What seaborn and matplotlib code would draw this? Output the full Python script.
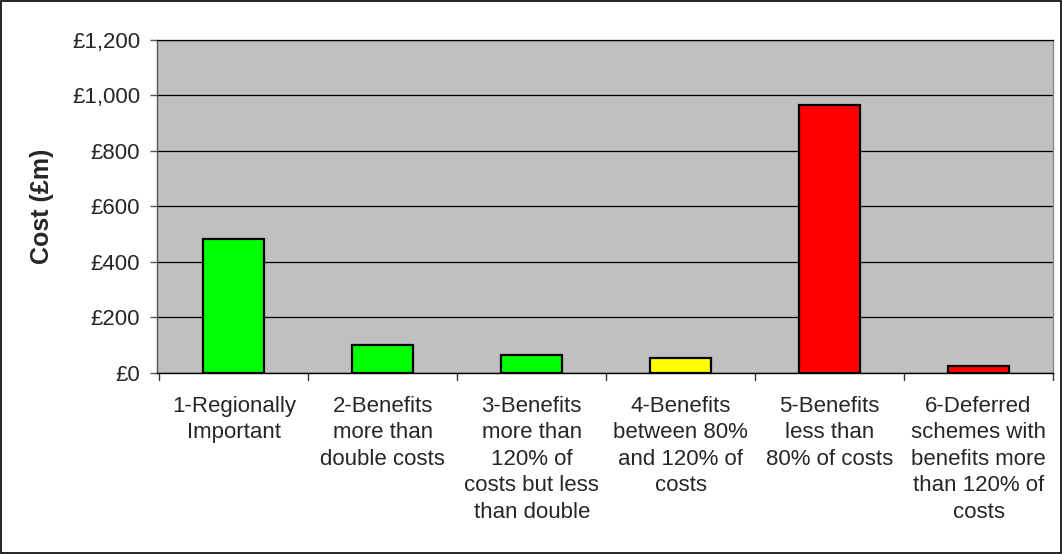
import matplotlib
matplotlib.use("Agg")
import matplotlib.pyplot as plt
from matplotlib.ticker import FuncFormatter, MultipleLocator
import seaborn as sns
import pandas as pd

categories = [
    "1-Regionally\nImportant",
    "2-Benefits\nmore than\ndouble costs",
    "3-Benefits\nmore than\n120% of\ncosts but less\nthan double",
    "4-Benefits\nbetween 80%\nand 120% of\ncosts",
    "5-Benefits\nless than\n80% of costs",
    "6-Deferred\nschemes with\nbenefits more\nthan 120% of\ncosts",
]
costs = [481, 99, 65, 53, 964, 23]
bar_colors = ["#00FF00", "#00FF00", "#00FF00", "#FFFF00", "#FF0000", "#FF0000"]

df = pd.DataFrame({"category": categories, "cost": costs})

sns.set_theme(style="white")
plt.rcParams["font.family"] = ["Liberation Sans", "DejaVu Sans"]

fig = plt.figure(figsize=(10.62, 5.54), dpi=100)
ax = fig.add_axes([0.1478, 0.3273, 0.8437, 0.6005])
ax.set_facecolor("#C0C0C0")

sns.barplot(
    data=df, x="category", y="cost", hue="category",
    palette=bar_colors, legend=False, width=0.41,
    edgecolor="black", linewidth=1.6, saturation=1, ax=ax,
)

ax.set_ylim(0, 1200)
ax.set_xlim(-0.517, len(categories) - 0.5)
ax.yaxis.set_major_locator(MultipleLocator(200))
ax.yaxis.set_major_formatter(FuncFormatter(lambda v, p: f"£{v:,.0f}"))
ax.grid(axis="y", color="black", linewidth=0.9)
ax.set_axisbelow(True)

# category labels, with separator ticks between categories
ax.set_xticks(range(len(categories)))
ax.set_xticklabels(categories, fontsize=16, linespacing=1.35, va="top")
ax.tick_params(axis="x", length=0, pad=16.5)
for b in range(len(categories) + 1):
    ax.plot([b - 0.5, b - 0.5], [0, -0.021], transform=ax.get_xaxis_transform(),
            color="#333333", linewidth=1, clip_on=False)

ax.tick_params(axis="y", labelsize=16, length=5, width=1, color="#555555",
               left=True, direction="out", pad=7)
ax.set_ylabel("Cost (£m)", fontsize=18, fontweight="bold", labelpad=13)
ax.set_xlabel("")

ax.spines["left"].set_color("#555555")
ax.spines["left"].set_linewidth(1)
ax.spines["bottom"].set_color("black")
ax.spines["bottom"].set_linewidth(1)
ax.spines["right"].set_color("#8a8a8a")
ax.spines["right"].set_linewidth(1)
ax.spines["top"].set_color("black")
ax.spines["top"].set_linewidth(0.9)

fig.patches.append(plt.Rectangle((0.001, 0.001), 0.998, 0.997, transform=fig.transFigure,
                                 fill=False, edgecolor="black", linewidth=1.2))

fig.savefig("out.png", dpi=100)
